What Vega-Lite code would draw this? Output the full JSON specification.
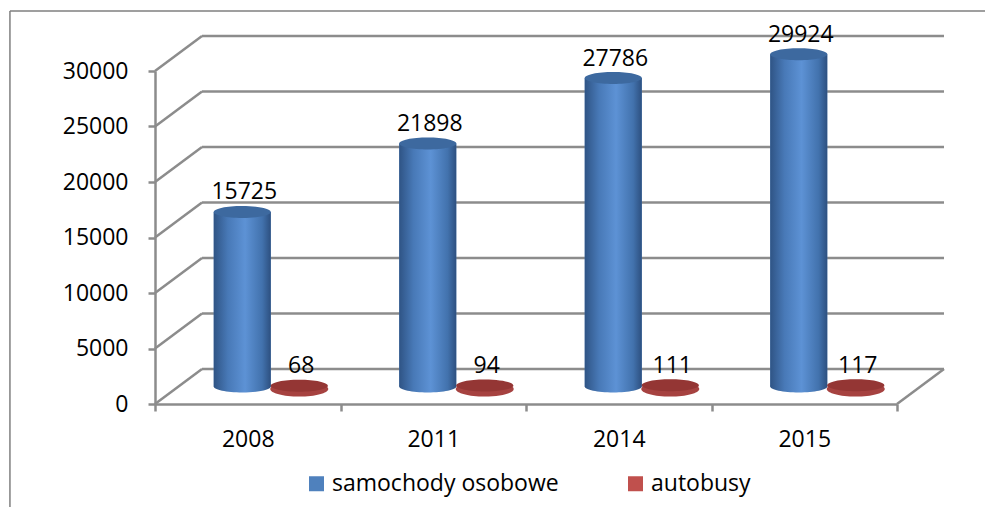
{
  "$schema": "https://vega.github.io/schema/vega-lite/v6.json",
  "width": 742,
  "height": 333,
  "autosize": {"type": "none"},
  "padding": {"left": 155, "top": 71, "right": 88, "bottom": 103},
  "background": "white",
  "config": {
    "view": {"stroke": null},
    "font": "Open Sans",
    "axis": {
      "labelFont": "Open Sans",
      "labelFontSize": 23,
      "labelColor": "#000000",
      "domainColor": "#8c8c8c",
      "domainWidth": 2.5,
      "tickColor": "#8c8c8c",
      "tickWidth": 2.5,
      "tickSize": 7,
      "grid": false,
      "title": null
    }
  },
  "datasets": {
    "cars": [
      {"year": "2008", "series": "samochody osobowe", "value": 15725},
      {"year": "2008", "series": "autobusy", "value": 68},
      {"year": "2011", "series": "samochody osobowe", "value": 21898},
      {"year": "2011", "series": "autobusy", "value": 94},
      {"year": "2014", "series": "samochody osobowe", "value": 27786},
      {"year": "2014", "series": "autobusy", "value": 111},
      {"year": "2015", "series": "samochody osobowe", "value": 29924},
      {"year": "2015", "series": "autobusy", "value": 117}
    ],
    "grid": [
      {"v": 0}, {"v": 5000}, {"v": 10000}, {"v": 15000}, {"v": 20000}, {"v": 25000}, {"v": 30000}
    ]
  },
  "resolve": {"scale": {"x": "independent"}},
  "layer": [
    {
      "data": {"name": "grid"},
      "layer": [
        {
          "mark": {"type": "rule", "color": "#8c8c8c", "strokeWidth": 2.5, "x2Offset": 47, "y2Offset": -35},
          "encoding": {
            "x": {"datum": 0, "type": "quantitative", "scale": {"domain": [0, 4], "nice": false, "zero": false}, "axis": null},
            "x2": {"datum": 0},
            "y": {
              "field": "v", "type": "quantitative", "title": null,
              "scale": {"domain": [0, 30000], "nice": false},
              "axis": {"values": [0, 5000, 10000, 15000, 20000, 25000, 30000], "format": "d", "labelPadding": 20, "domain": true, "title": null, "orient": "left"}
            },
            "y2": {"field": "v"}
          }
        },
        {
          "mark": {"type": "rule", "color": "#8c8c8c", "strokeWidth": 2.5, "xOffset": 47, "x2Offset": 47, "yOffset": -35},
          "encoding": {
            "x": {"datum": 0, "type": "quantitative"},
            "x2": {"datum": 4},
            "y": {"field": "v", "type": "quantitative", "title": null}
          }
        },
        {
          "transform": [{"filter": "datum.v === 0"}],
          "mark": {"type": "rule", "color": "#8c8c8c", "strokeWidth": 2.5, "x2Offset": 47, "y2Offset": -35},
          "encoding": {
            "x": {"datum": 4, "type": "quantitative"},
            "x2": {"datum": 4},
            "y": {"field": "v", "type": "quantitative", "title": null},
            "y2": {"field": "v"}
          }
        },
        {
          "transform": [{"filter": "datum.v === 0"}],
          "mark": {"type": "rule", "color": "#7f7f7f", "strokeWidth": 1.5},
          "encoding": {
            "x": {"datum": -0.782, "type": "quantitative"},
            "y": {"datum": 35400, "type": "quantitative"},
            "y2": {"datum": -16000}
          }
        },
        {
          "transform": [{"filter": "datum.v === 0"}],
          "mark": {"type": "rule", "color": "#7f7f7f", "strokeWidth": 1.5},
          "encoding": {
            "x": {"datum": -0.782, "type": "quantitative"},
            "x2": {"datum": 4.6},
            "y": {"datum": 35400, "type": "quantitative"}
          }
        }
      ]
    },
    {
      "data": {"name": "cars"},
      "encoding": {
        "x": {
          "field": "year", "type": "nominal", "title": null,
          "scale": {"paddingInner": 0, "paddingOuter": 0},
          "axis": {"orient": "bottom", "tickBand": "extent", "labelAngle": 0, "labelPadding": 17, "domain": true, "title": null}
        },
        "xOffset": {
          "field": "series", "type": "nominal",
          "scale": {"domain": ["samochody osobowe", "autobusy"], "range": [58.75, 172.75], "paddingInner": 0, "paddingOuter": 0}
        },
        "y": {"field": "value", "type": "quantitative", "title": null}
      },
      "layer": [
        {
          "mark": {"type": "bar", "yOffset": -17.5, "y2Offset": -17.5},
          "encoding": {
            "y2": {"datum": 0},
            "color": {
              "field": "series", "type": "nominal",
              "scale": {"domain": ["samochody osobowe", "autobusy"], "range": ["#4F81BD", "#C0504D"]},
              "legend": {
                "title": null, "orient": "none", "legendX": 150, "legendY": 401,
                "direction": "horizontal", "symbolType": "square", "symbolSize": 225,
                "symbolStrokeWidth": 0, "symbolOpacity": 1, "labelFontSize": 23, "labelFont": "Open Sans",
                "labelColor": "#000000", "labelOffset": 4, "labelLimit": 400, "columnPadding": 65
              }
            }
          }
        },
        {
          "transform": [{"filter": "datum.series === 'samochody osobowe'"}],
          "mark": {
            "type": "bar", "yOffset": -17.5, "y2Offset": -17.5,
            "color": {
              "gradient": "linear", "x1": 0, "y1": 0, "x2": 1, "y2": 0,
              "stops": [
                {"offset": 0, "color": "#2f5485"},
                {"offset": 0.25, "color": "#4879b7"},
                {"offset": 0.55, "color": "#5d92d5"},
                {"offset": 0.85, "color": "#4272ad"},
                {"offset": 1, "color": "#2d5080"}
              ]
            }
          },
          "encoding": {"y2": {"datum": 0}}
        },
        {
          "transform": [{"filter": "datum.series === 'samochody osobowe'"}],
          "mark": {
            "type": "point", "filled": true, "opacity": 1, "strokeWidth": 0,
            "shape": "M-1,0A1,0.21,0,1,0,1,0A1,0.21,0,1,0,-1,0Z", "size": 3249, "yOffset": -17.5,
            "color": {
              "gradient": "linear", "x1": 0, "y1": 0, "x2": 1, "y2": 0,
              "stops": [
                {"offset": 0, "color": "#2f5485"},
                {"offset": 0.25, "color": "#4879b7"},
                {"offset": 0.55, "color": "#5d92d5"},
                {"offset": 0.85, "color": "#4272ad"},
                {"offset": 1, "color": "#2d5080"}
              ]
            }
          },
          "encoding": {"y": {"datum": 0, "type": "quantitative"}}
        },
        {
          "transform": [{"filter": "datum.series === 'autobusy'"}],
          "mark": {
            "type": "point", "filled": true, "opacity": 1, "strokeWidth": 0,
            "shape": "M-1,0A1,0.26,0,1,0,1,0A1,0.26,0,1,0,-1,0Z", "size": 3364, "yOffset": -15,
            "color": "#a64240"
          },
          "encoding": {"y": {"datum": 0, "type": "quantitative"}}
        },
        {
          "mark": {
            "type": "point", "filled": true, "opacity": 1, "strokeWidth": 0,
            "shape": "M-1,0A1,0.21,0,1,0,1,0A1,0.21,0,1,0,-1,0Z", "size": 3249, "yOffset": -17.5
          },
          "encoding": {
            "fill": {
              "field": "series", "type": "nominal",
              "scale": {"domain": ["samochody osobowe", "autobusy"], "range": ["#3d699f", "#943634"]},
              "legend": null
            }
          }
        },
        {
          "mark": {"type": "text", "fontSize": 23, "font": "Open Sans", "yOffset": -30, "dx": 2, "baseline": "alphabetic", "color": "#000000"},
          "encoding": {"text": {"field": "value", "type": "quantitative", "format": "d"}}
        }
      ]
    }
  ]
}
